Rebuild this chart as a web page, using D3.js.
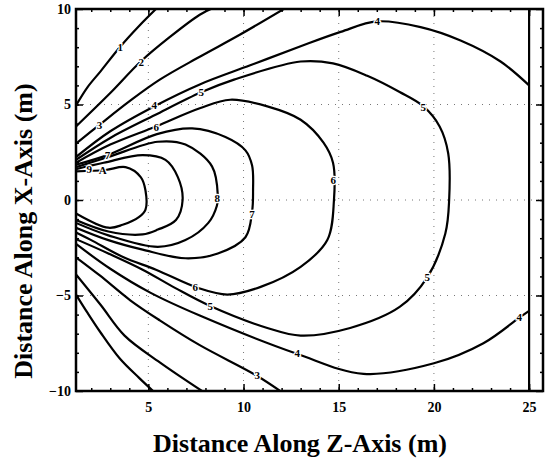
<!DOCTYPE html>
<html>
<head>
<meta charset="utf-8">
<script src="https://cdn.jsdelivr.net/npm/d3@7"></script>
<style>
body { margin: 0; background: #fff; }
</style>
</head>
<body>
<div id="contours"></div>
<script>
//
// Contour plot: distance along Z-axis (m) vs distance along X-axis (m)
// Contour levels 1..9, A. Each line as [z, x] points
//

var zTicks = [5, 10, 15, 20, 25];
var xTicks = [-10, -5, 0, 5, 10];
var zGrid = [5, 10, 15, 20];
var xGrid = [-5, 0, 5];
var zEdge = 25;   // edge of the computed region

var line1Top = [[1.2,4.95],[1.8,5.9],[2.5,6.75],[3.5,8.0],[4.5,9.1],[5.45,10.05]];
var line1Bottom = [[1.2,-4.95],[1.8,-5.9],[2.5,-6.95],[3.5,-8.3],[4.5,-9.3],[5.3,-10.05]];
var line2Top = [[1.2,3.85],[3.0,5.6],[4.6,7.25],[6.15,8.55],[7.7,9.7],[8.4,10.05]];
var line2Bottom = [[1.2,-3.9],[2.5,-5.5],[3.75,-7.1],[5.6,-8.5],[7.9,-10.05]];
var line3Top = [[1.2,2.95],[2.45,3.95],[4.05,5.2],[5.6,6.3],[7.7,7.5],[9.8,8.65],[12.2,10.05]];
var line3Bottom = [[1.2,-3.0],[2.45,-3.95],[4.05,-5.25],[5.6,-6.3],[7.7,-7.6],[10.7,-9.2],[12.0,-10.05]];
var line4Top = [[1.2,2.25],[3.0,3.6],[5.3,4.9],[7.7,6.05],[10.35,7.05],[13.0,8.05],[15.1,8.8],[17.0,9.35],
                [19.3,9.05],[21.4,8.35],[23.5,7.25],[25,6.0]];
var line4Bottom = [[25,-5.8],[24.5,-6.15],[22.6,-7.5],[20.0,-8.55],[16.3,-9.1],[12.8,-8.05],[7.7,-6.05],
                   [5.1,-4.85],[3.0,-3.6],[1.2,-2.3]];
var line5 = [[1.2,2.1],[3.0,3.25],[5.35,4.45],[7.8,5.65],[9.5,6.3],[13.0,7.25],[14.7,7.15],[16.5,6.5],
             [18.2,5.65],[19.45,4.9],[20.3,3.85],[20.75,2.45],[20.8,0],[20.6,-1.75],[19.65,-4.05],
             [18.2,-5.6],[15.6,-6.7],[13.0,-7.1],[11.25,-6.7],[8.25,-5.55],[6.4,-4.6],[4.7,-3.65],
             [2.9,-2.8],[1.2,-2.05]];
var line6 = [[1.2,1.95],[3.0,2.9],[5.4,3.85],[7.7,4.8],[9.3,5.25],[11.25,4.9],[13.0,4.2],[14.2,3.0],
             [14.7,1.95],[14.75,0],[14.4,-2.1],[13.0,-3.5],[10.9,-4.55],[9.15,-4.95],[7.6,-4.6],
             [5.4,-3.65],[3.7,-3.0],[2.0,-2.1],[1.2,-1.7]];
var line7 = [[1.2,1.85],[2.85,2.35],[5.45,3.45],[7.3,3.75],[9.05,3.3],[10.1,2.6],[10.45,1.8],[10.5,0.5],
             [10.45,-0.6],[10.1,-1.95],[8.65,-2.8],[6.95,-3.05],[4.7,-2.6],[2.9,-2.1],[1.2,-1.45]];
var line8 = [[1.2,1.72],[2.9,2.25],[5.5,3.05],[6.95,2.9],[8.35,1.75],[8.65,0.2],[8.6,-0.3],[8.15,-1.2],
             [6.95,-2.1],[5.5,-2.45],[2.9,-1.85],[1.2,-1.2]];
var line9 = [[1.2,1.62],[2.65,1.95],[4.7,2.35],[5.9,2.1],[6.55,1.2],[6.8,0],[6.45,-1.05],[5.5,-1.55],
             [4.7,-1.8],[2.9,-1.65],[1.2,-1.05]];
var lineA = [[1.2,1.5],[2.75,1.57],[3.8,1.72],[4.6,1.2],[4.85,0.5],[4.85,-0.5],[4.5,-0.9],[3.65,-1.3],
             [2.9,-1.45],[1.2,-0.7]];

var contourLines = [line1Top, line1Bottom, line2Top, line2Bottom, line3Top, line3Bottom,
                    line4Top, line4Bottom, line5, line6, line7, line8, line9, lineA];

// level labels written on the lines: [text, z, x]
var contourLabels = [["1",3.53,7.98],["2",4.63,7.24],["3",2.43,3.94],["3",10.72,-9.19],
                     ["4",5.31,4.99],["4",17.02,9.34],["4",12.82,-8.03],["4",24.48,-6.14],
                     ["5",7.78,5.67],["5",19.44,4.88],["5",19.65,-4.04],["5",8.25,-5.56],
                     ["6",5.42,3.83],["6",14.71,1.05],["6",7.47,-4.57],
                     ["7",2.85,2.36],["7",10.45,-0.75],["8",8.62,0.1],["9",1.9,1.6],["A",2.6,1.55]];

//
// Size of the plot
//
var margin = {top: 9, right: 3, bottom: 72, left: 76};
var width = 546 - margin.left - margin.right;
var height = 463 - margin.top - margin.bottom;

var x = d3.scaleLinear().domain([1.2, 25.73]).range([0, width]);
var y = d3.scaleLinear().domain([-10, 10]).range([height, 0]);

var svg = d3.select("#contours").append("svg")
	.attr("width", 546)
	.attr("height", 463)
	.append("g")
	.attr("transform", "translate(" + margin.left + "," + margin.top + ")");

svg.append("clipPath").attr("id", "plotclip")
	.append("rect").attr("width", width).attr("height", height);

//
// Dotted grid
//
svg.selectAll(".vgrid").data(zGrid).enter().append("line")
	.attr("x1", function(d) { return x(d); }).attr("x2", function(d) { return x(d); })
	.attr("y1", 0).attr("y2", height)
	.style("stroke", "#777").style("stroke-width", 1).style("stroke-dasharray", "1,6");
svg.selectAll(".hgrid").data(xGrid).enter().append("line")
	.attr("y1", function(d) { return y(d); }).attr("y2", function(d) { return y(d); })
	.attr("x1", 0).attr("x2", width)
	.style("stroke", "#777").style("stroke-width", 1).style("stroke-dasharray", "1,6");

//
// Contour lines
//
var line = d3.line()
	.x(function(d) { return x(d[0]); })
	.y(function(d) { return y(d[1]); })
	.curve(d3.curveCatmullRom.alpha(0.5));

var plot = svg.append("g").attr("clip-path", "url(#plotclip)");

plot.selectAll(".contour").data(contourLines).enter().append("path")
	.attr("class", "contour")
	.attr("d", line)
	.style("fill", "none")
	.style("stroke", "#000")
	.style("stroke-width", 2.2);

plot.append("line")
	.attr("x1", x(zEdge)).attr("x2", x(zEdge))
	.attr("y1", y(-10)).attr("y2", y(10))
	.style("stroke", "#000").style("stroke-width", 2.2);

plot.selectAll(".clabel").data(contourLabels).enter().append("text")
	.attr("x", function(d) { return x(d[1]); })
	.attr("y", function(d) { return y(d[2]); })
	.attr("dy", "0.35em")
	.attr("text-anchor", "middle")
	.style("font-family", "'Liberation Serif', serif")
	.style("font-weight", "bold")
	.style("font-size", "11px")
	.style("stroke", "#fff").style("stroke-width", 2.5).style("paint-order", "stroke")
	.style("fill", "#000")
	.text(function(d) { return d[0]; });

//
// Ticks pointing inward on all sides
//
var zMinor = d3.range(2, 26);
var xMinor = d3.range(-9, 10);

function clean(g) {
	g.select(".domain").remove();
	g.selectAll("line").style("stroke", "#000").style("stroke-width", 1.5);
	g.selectAll("text").style("font-family", "'Liberation Serif', serif")
		.style("font-weight", "bold").style("font-size", "14px").style("fill", "#000");
}

svg.append("g").attr("transform", "translate(0," + height + ")")
	.call(d3.axisBottom(x).tickValues(zMinor).tickSize(-3).tickFormat("")).call(clean);
svg.append("g").attr("transform", "translate(0," + height + ")")
	.call(d3.axisBottom(x).tickValues(zTicks).tickSize(-7).tickSizeOuter(0).tickPadding(11)).call(clean);
svg.append("g")
	.call(d3.axisTop(x).tickValues(zMinor).tickSize(-3).tickFormat("")).call(clean);
svg.append("g")
	.call(d3.axisTop(x).tickValues(zTicks).tickSize(-7).tickFormat("")).call(clean);

svg.append("g")
	.call(d3.axisLeft(y).tickValues(xMinor).tickSize(-3).tickFormat("")).call(clean);
svg.append("g")
	.call(d3.axisLeft(y).tickValues(xTicks).tickSize(-7).tickSizeOuter(0).tickPadding(5)).call(clean);
svg.append("g").attr("transform", "translate(" + width + ",0)")
	.call(d3.axisRight(y).tickValues(xMinor).tickSize(-3).tickFormat("")).call(clean);
svg.append("g").attr("transform", "translate(" + width + ",0)")
	.call(d3.axisRight(y).tickValues(xTicks).tickSize(-7).tickFormat("")).call(clean);

//
// Frame
//
svg.append("rect")
	.attr("width", width).attr("height", height)
	.style("fill", "none").style("stroke", "#000").style("stroke-width", 2.5);

//
// Axis titles
//
svg.append("text")
	.attr("x", 224).attr("y", 443)
	.attr("text-anchor", "middle")
	.style("font-family", "'Liberation Serif', serif")
	.style("font-weight", "bold")
	.style("font-size", "26px")
	.text("Distance Along Z-Axis (m)");

svg.append("text")
	.attr("transform", "translate(-44," + 222 + ") rotate(-90)")
	.attr("text-anchor", "middle")
	.style("font-family", "'Liberation Serif', serif")
	.style("font-weight", "bold")
	.style("font-size", "26px")
	.text("Distance Along X-Axis (m)");
</script>
</body>
</html>
